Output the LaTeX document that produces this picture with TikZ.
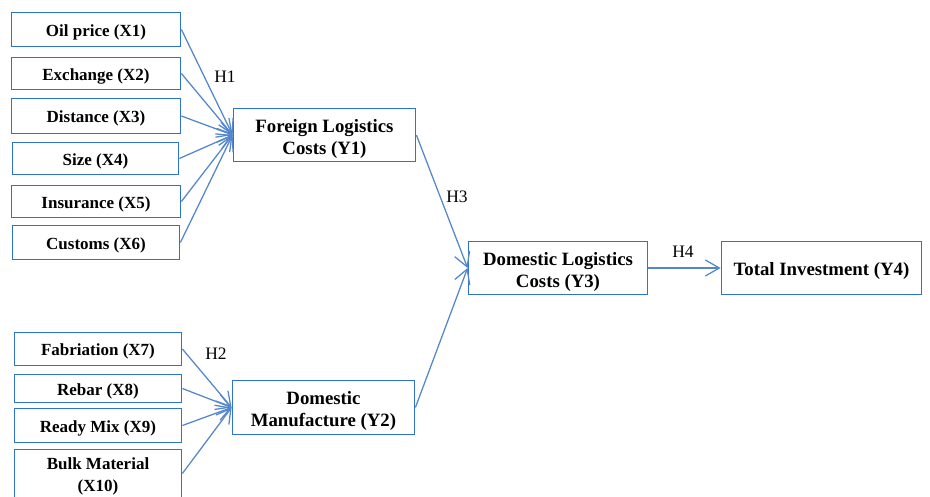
\documentclass[tikz,border=0pt]{standalone}
\usepackage{fontspec}
\setmainfont{Liberation Serif}
\usetikzlibrary{arrows.meta}
\definecolor{boxblue}{RGB}{46,117,201}
\definecolor{lineblue}{RGB}{84,134,204}
\tikzset{
  xbox/.style={draw=boxblue, line width=1.8pt, rectangle, inner sep=0pt, minimum width=169pt},
  ybox/.style={draw=boxblue, line width=1.8pt, rectangle, inner sep=0pt, minimum height=53pt},
  xtxt/.style={inner sep=0pt, align=center, font=\fontsize{17}{22}\selectfont\bfseries},
  ytxt/.style={inner sep=0pt, align=center, font=\fontsize{18.8}{22}\selectfont\bfseries},
  hlab/.style={inner sep=0pt, font=\fontsize{17.5}{20}\selectfont},
  link/.style={draw=lineblue, line width=1.25pt, -{Straight Barb[length=14pt,width=16pt]}}
}
\begin{document}
\begin{tikzpicture}[x=1pt,y=-1pt]
\useasboundingbox (0,0) rectangle (930,496);
\clip (0,0) rectangle (930,496);
\fill[white] (0,0) rectangle (930,496);
% left inputs
\node[xbox, minimum height=34pt] (x1) at (96,29.5) {};
\node[xbox, minimum height=32pt] (x2) at (96,73.5) {};
\node[xbox, minimum height=35pt] (x3) at (96,116) {};
\node[xbox, minimum height=32pt, minimum width=166pt] (x4) at (95.5,158.5) {};
\node[xbox, minimum height=32pt] (x5) at (96,201.5) {};
\node[xbox, minimum height=34pt, minimum width=167pt] (x6) at (96,242.5) {};
\node[xbox, minimum height=33pt, minimum width=167pt] (x7) at (98,349) {};
\node[xbox, minimum height=28pt, minimum width=167pt] (x8) at (98,388.5) {};
\node[xbox, minimum height=34pt, minimum width=167pt] (x9) at (98,425.5) {};
\node[xbox, minimum height=48pt, minimum width=167pt] (x10) at (98,473.5) {};
\node[xtxt] (t1) at ([yshift=-2.5pt]x1.center) {Oil price (X1)};
\node[xtxt] (t2) at ([yshift=-2.5pt]x2.center) {Exchange (X2)};
\node[xtxt] (t3) at ([yshift=-2.5pt]x3.center) {Distance (X3)};
\node[xtxt] (t4) at ([yshift=-2.5pt]x4.center) {Size (X4)};
\node[xtxt] (t5) at ([yshift=-2.5pt]x5.center) {Insurance (X5)};
\node[xtxt] (t6) at ([yshift=-2.5pt]x6.center) {Customs (X6)};
\node[xtxt] (t7) at ([yshift=-2.5pt]x7.center) {Fabriation (X7)};
\node[xtxt] (t8) at ([yshift=-2.5pt]x8.center) {Rebar (X8)};
\node[xtxt] (t9) at ([yshift=-2.5pt]x9.center) {Ready Mix (X9)};
\node[xtxt] (t10) at ([yshift=-3pt]x10.center) {Bulk Material\\(X10)};
% latent boxes
\node[ybox, minimum width=182pt] (y1) at (324.5,135) {};
\node[ybox, minimum width=182pt, minimum height=54pt] (y2) at (323.5,407.5) {};
\node[ybox, minimum width=179pt] (y3) at (558,268) {};
\node[ybox, minimum width=200pt] (y4) at (821.5,268) {};
\node[ytxt] (u1) at ([yshift=-3.5pt]y1.center) {Foreign Logistics\\Costs (Y1)};
\node[ytxt] (u2) at ([yshift=-3.5pt]y2.center) {Domestic\\Manufacture (Y2)};
\node[ytxt] (u3) at ([yshift=-3.5pt]y3.center) {Domestic Logistics\\Costs (Y3)};
\node[ytxt] (u4) at ([yshift=-2.5pt]y4.center) {Total Investment (Y4)};
% connectors
\foreach \i in {1,...,6} \draw[link] (x\i.east) -- (y1.west);
\foreach \i in {7,...,10} \draw[link] (x\i.east) -- (y2.west);
\draw[link] (y1.east) -- (y3.west);
\draw[link] (y2.east) -- (y3.west);
\draw[link] (y3.east) -- (y4.west);
% labels
\node[hlab] (h1) at (225,77) {H1};
\node[hlab] (h2) at (216,354) {H2};
\node[hlab] (h3) at (457,197) {H3};
\node[hlab] (h4) at (683,252) {H4};
\end{tikzpicture}
\end{document}
